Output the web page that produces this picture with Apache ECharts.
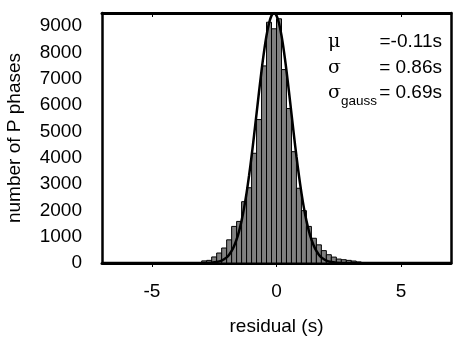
<!DOCTYPE html>
<html>
<head>
<meta charset="utf-8">
<script src="https://cdn.jsdelivr.net/npm/echarts@6/dist/echarts.min.js"></script>
<style>
  html, body { margin: 0; padding: 0; background: #fff; }
  #chart { width: 453px; height: 337px; }
</style>
</head>
<body>
<div id="chart"></div>
<script>
// histogram bins (residual, s) and counts
const binEdges = [-3.0, -2.8, -2.6, -2.4, -2.2, -2.0, -1.8, -1.6, -1.4, -1.2, -1.0, -0.8, -0.6, -0.4, -0.2,
  0.0, 0.2, 0.4, 0.6, 0.8, 1.0, 1.2, 1.4, 1.6, 1.8, 2.0, 2.2, 2.4, 2.6, 2.8, 3.0, 3.2, 3.4]
const binCounts = [80, 100, 230, 380, 570, 880, 1390, 1580, 2330, 2860, 4170, 5450, 7490, 9150, 8900,
  9280, 7350, 5870, 4230, 2840, 1990, 1390, 940, 690, 470, 315, 225, 150, 125, 100, 75, 40]

// fitted gaussian curve
const curveX = [-7, -3.0, -2.6, -2.4, -2.2, -2.0, -1.9, -1.8, -1.7, -1.6, -1.5, -1.4, -1.3, -1.2, -1.1, -1.0,
  -0.9, -0.8, -0.7, -0.6, -0.5, -0.4, -0.3, -0.2, -0.1, 0.0, 0.1, 0.2, 0.3, 0.4, 0.5, 0.6, 0.7, 0.8,
  0.9, 1.0, 1.1, 1.2, 1.3, 1.4, 1.5, 1.6, 1.7, 1.8, 2.0, 2.2, 2.4, 2.8, 7]
const curveY = [0, 1, 13, 37, 93, 214, 316, 457, 646, 894, 1213, 1610, 2094, 2666, 3324, 4057,
  4851, 5679, 6509, 7306, 8030, 8643, 9110, 9401, 9500, 9401, 9110, 8643, 8030, 7306, 6509, 5679, 4851, 4057,
  3324, 2666, 2094, 1610, 1213, 894, 646, 457, 316, 214, 93, 37, 13, 1, 0]

const xTicks = [-5, 0, 5]
const statLabels = ['μ', 'σ', 'σ']
const statValues = ['=-0.11s', '= 0.86s', '= 0.69s']

const FONT = 'Liberation Sans, Arial, sans-serif'
const FS = 19

const chart = echarts.init(document.getElementById('chart'))

const histData = binCounts.map((c, i) => [binEdges[i], binEdges[i + 1], c])
const curveData = curveX.map((x, i) => [x, curveY[i]])

// stats text block, top right
const rowY = [42, 68, 93]
const graphic = []
statLabels.forEach((s, i) => {
  graphic.push({
    type: 'text', x: 328, y: rowY[i], z: 100,
    style: { text: s, fontSize: FS, fontFamily: 'DejaVu Serif, serif', fill: '#000', verticalAlign: 'middle' }
  })
  graphic.push({
    type: 'text', x: 442, y: rowY[i], z: 100,
    style: { text: statValues[i], fontSize: FS, fontFamily: FONT, fill: '#000', align: 'right', verticalAlign: 'middle' }
  })
})
graphic.push({
  type: 'text', x: 341, y: 101, z: 99,
  style: { text: 'gauss', fontSize: 13.5, fontFamily: FONT, fill: '#000', verticalAlign: 'middle' }
})

const option = {
  animation: false,
  backgroundColor: '#fff',
  grid: {
    left: 102, right: 2, top: 13, bottom: 74,
    outerBoundsMode: 'none',
    show: false
  },
  graphic,
  xAxis: [
    {
      type: 'value', min: -7, max: 7, position: 'bottom',
      name: 'residual (s)', nameLocation: 'middle', nameGap: 54,
      nameTextStyle: { fontSize: FS, fontFamily: FONT, color: '#000' },
      axisLine: { show: true, onZero: false, lineStyle: { color: '#000', width: 3 } },
      axisTick: { show: true, customValues: xTicks, length: 4, lineStyle: { color: '#000', width: 1 } },
      axisLabel: { customValues: xTicks, fontSize: FS, fontFamily: FONT, color: '#000', margin: 19 },
      splitLine: { show: false }
    },
    {
      type: 'value', min: -7, max: 7, position: 'top',
      axisLine: { show: true, onZero: false, lineStyle: { color: '#000', width: 3 } },
      axisTick: { show: true, inside: true, customValues: xTicks, length: 4, lineStyle: { color: '#000', width: 1 } },
      axisLabel: { show: false },
      splitLine: { show: false }
    }
  ],
  yAxis: [
    {
      type: 'value', min: 0, max: 9500, interval: 1000, position: 'left',
      name: 'number of P phases', nameLocation: 'middle', nameGap: 78,
      nameTextStyle: { fontSize: FS, fontFamily: FONT, color: '#000' },
      axisLine: { show: true, onZero: false, lineStyle: { color: '#000', width: 2.5 } },
      axisTick: { show: false },
      axisLabel: {
        fontSize: FS, fontFamily: FONT, color: '#000', margin: 20, showMaxLabel: false,
        formatter: v => String(v)
      },
      splitLine: { show: false }
    },
    {
      type: 'value', min: 0, max: 9500, position: 'right',
      axisLine: { show: true, onZero: false, lineStyle: { color: '#000', width: 2.5 } },
      axisTick: { show: false },
      axisLabel: { show: false },
      splitLine: { show: false }
    }
  ],
  series: [
    {
      type: 'custom',
      name: 'histogram',
      data: histData,
      encode: { x: [0, 1], y: 2 },
      clip: true,
      renderItem(params, api) {
        const p0 = api.coord([api.value(0), api.value(2)])
        const p1 = api.coord([api.value(1), 0])
        return {
          type: 'rect',
          shape: { x: p0[0], y: p0[1], width: p1[0] - p0[0], height: p1[1] - p0[1] },
          style: { fill: '#808080', stroke: '#000', lineWidth: 1 }
        }
      }
    },
    {
      type: 'line',
      name: 'gauss',
      data: curveData,
      smooth: 0.3,
      showSymbol: false,
      clip: true,
      lineStyle: { color: '#000', width: 2.5 },
      z: 5
    }
  ]
}

chart.setOption(option)
</script>
</body>
</html>
